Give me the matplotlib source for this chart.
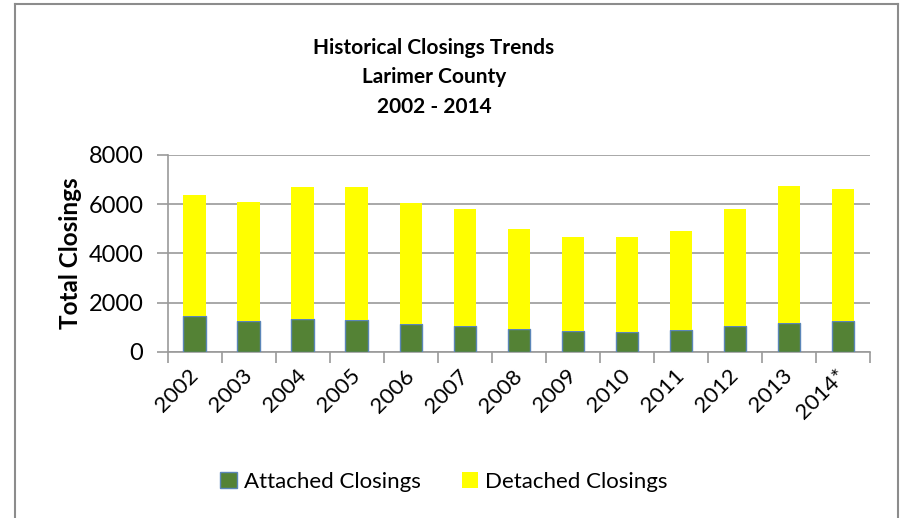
import matplotlib
matplotlib.use("Agg")
import matplotlib.pyplot as plt
import numpy as np
from matplotlib.patches import Rectangle
from matplotlib.lines import Line2D

# ----------------------
# Data
# ----------------------
years = ["2002", "2003", "2004", "2005", "2006", "2007", "2008",
         "2009", "2010", "2011", "2012", "2013", "2014*"]
attached = [1460, 1245, 1350, 1300, 1135, 1070, 945, 865, 810, 880, 1070, 1190, 1245]
totals = [6380, 6095, 6690, 6715, 6070, 5800, 5000, 4660, 4675, 4905, 5810, 6745, 6620]
detached = [t - a for t, a in zip(totals, attached)]

plt.rcParams['font.family'] = ['Lato', 'DejaVu Sans']

fig = plt.figure(figsize=(9.02, 5.18), dpi=100)
ax = fig.add_axes([0.186, 0.3205, 0.7785, 0.3803])

x = np.arange(len(years))
ax.bar(x, attached, width=0.42, color='#548235', edgecolor='#5b86b8',
       linewidth=1.0, label='Attached Closings', zorder=3)
ax.bar(x, detached, width=0.42, bottom=attached, color='#ffff00',
       edgecolor='none', label='Detached Closings', zorder=3)

ax.set_xlim(-0.5, len(years) - 0.5)
ax.set_ylim(0, 8000)
ax.set_yticks([0, 2000, 4000, 6000, 8000])
ax.grid(axis='y', color='#9a9a9a', linewidth=1.2, zorder=0)

# x ticks on category boundaries, labels centred on bars
ax.set_xticks(np.arange(-0.5, len(years) + 0.5, 1.0))
ax.set_xticklabels([])
ax.set_xticks(x, minor=True)
ax.set_xticklabels(years, minor=True, rotation=45, ha='right', va='center',
                   rotation_mode='anchor', fontsize=16)
ax.tick_params(axis='x', which='minor', length=0, pad=15)
ax.tick_params(axis='x', which='major', length=8, color='#9a9a9a', width=1.2)
ax.tick_params(axis='y', length=8, color='#9a9a9a', width=1.2,
               labelsize=17, pad=9.5)

for s in ['top', 'right']:
    ax.spines[s].set_visible(False)
for s in ['left', 'bottom']:
    ax.spines[s].set_color('#9a9a9a')
    ax.spines[s].set_linewidth(1.2)

ax.set_ylabel("Total Closings", fontsize=17.5, fontweight='bold', labelpad=5)

fig.text(0.481, 0.851, "Historical Closings Trends\nLarimer County\n2002 - 2014",
         ha='center', va='center', fontsize=15, fontweight='bold', linespacing=1.6)

handles = [Rectangle((0, 0), 1, 1, facecolor='#548235', edgecolor='#5b86b8', linewidth=1.0),
           Rectangle((0, 0), 1, 1, facecolor='#ffff00', edgecolor='none')]
fig.legend(handles, ['Attached Closings', 'Detached Closings'],
           loc='center', bbox_to_anchor=(0.492, 0.07), ncol=2, frameon=False,
           fontsize=16, handlelength=0.75, handleheight=0.75, handletextpad=0.3,
           columnspacing=1.85)

# outer chart border (no bottom edge)
border = dict(color='#8c8c8c', linewidth=1.5, transform=fig.transFigure)
fig.add_artist(Line2D([15 / 902, 15 / 902], [0, 1 - 4 / 518], **border))
fig.add_artist(Line2D([15 / 902, 898 / 902], [1 - 4 / 518, 1 - 4 / 518], **border))
fig.add_artist(Line2D([898 / 902, 898 / 902], [0, 1 - 4 / 518], **border))

fig.savefig("out.png", dpi=100)
